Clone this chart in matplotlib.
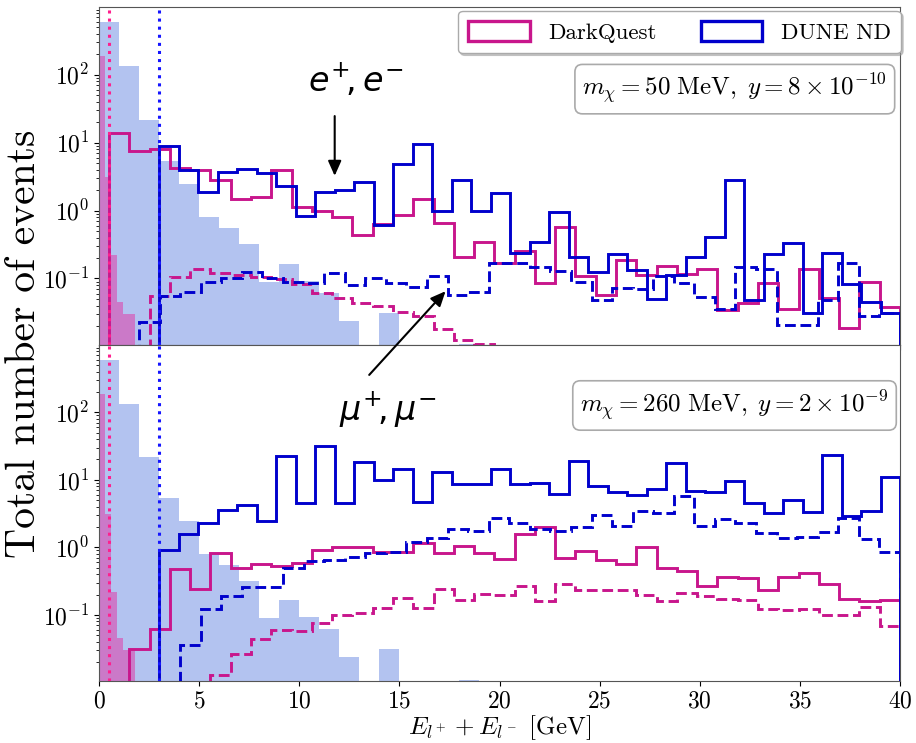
import numpy as np
import matplotlib
matplotlib.use("Agg")
import matplotlib.pyplot as plt
from matplotlib.patches import Patch

plt.rcParams["font.family"] = "serif"
plt.rcParams["font.serif"] = ["cmr10", "DejaVu Serif"]
plt.rcParams["mathtext.fontset"] = "cm"
plt.rcParams["axes.formatter.use_mathtext"] = True
plt.rcParams["axes.unicode_minus"] = False

# ---------------- data ----------------
dq_edges = np.linspace(0.5, 40, 40)        # DarkQuest bins (39)
dune_e_edges = np.linspace(3, 40, 39)      # DUNE e+e- bins (38)
dune_mu_edges = np.linspace(2, 40, 38)     # DUNE mu+mu- bins (37)
bkg_dune_edges = np.arange(0, 20)          # background (DUNE) bins
bkg_dq_edges = np.array([0.0, 0.3, 0.6, 0.9, 1.2, 1.5, 1.8])

bkg_dune = [590, 134, 21.5, 5.4, 2.45, 0.8, 0.55, 0.32, 0.09, 0.165, 0.092,
            0.062, 0.024, 0, 0.031, 0, 0, 0, 0.0107]
bkg_dq = [185, 3.1, 0.22, 0.045, 0.03, 0.03]

# top panel: m_chi = 50 MeV
dq_ee_top = [13.8, 7.4, 8.0, 4.25, 4.0, 2.8, 1.48, 1.6, 3.9, 1.11, 0.97, 0.81,
             0.44, 0.63, 0.87, 1.48, 0.65, 0.21, 0.35, 0.167, 0.25, 0.085, 0.58,
             0.11, 0.058, 0.186, 0.112, 0.152, 0.117, 0.136, 0.034, 0.044,
             0.085, 0.035, 0.139, 0.052, 0.0186, 0.089, 0.038]
dq_mm_top = [0, 0, 0.056, 0.106, 0.138, 0.12, 0.114, 0.106, 0.097, 0.083,
             0.062, 0.051, 0.044, 0.04, 0.032, 0.028, 0.018, 0.0125, 0.011,
             0, 0, 0, 0, 0, 0, 0, 0, 0, 0, 0, 0, 0, 0, 0, 0, 0, 0, 0, 0]
dune_ee_top = [8.9, 3.9, 1.85, 3.75, 4.1, 3.6, 2.3, 0.83, 1.9, 2.0, 2.66, 0.62,
               4.8, 9.4, 0.97, 2.86, 0.97, 1.8, 0.234, 0.35, 0.95, 0.21, 0.126,
               0.232, 0.132, 0.05, 0.113, 0.205, 0.41, 2.8, 0.049, 0.23, 0.335,
               0.031, 0.234, 0.082, 0.045, 0.031]
dune_mm_top = [0.023, 0.056, 0.063, 0.088, 0.1, 0.126, 0.1, 0.09, 0.085, 0.12,
               0.081, 0.1, 0.085, 0.075, 0.108, 0.058, 0.064, 0.17, 0.17, 0.15,
               0.128, 0.09, 0.048, 0.072, 0.071, 0.108, 0.085, 0.054, 0.036,
               0.146, 0.14, 0.021, 0.021, 0.048, 0.17, 0.028, 0.031]

# bottom panel: m_chi = 260 MeV
dq_ee_bot = [0, 0.031, 0.062, 0.48, 0.245, 0.82, 0.5, 0.57, 0.53, 0.59, 0.91,
             1.0, 1.0, 0.84, 0.84, 1.14, 0.82, 1.05, 0.82, 0.67, 1.6, 2.0, 0.69,
             0.88, 0.65, 0.56, 1.0, 0.5, 0.45, 0.265, 0.365, 0.355, 0.232,
             0.37, 0.41, 0.29, 0.17, 0.16, 0.165]
dq_mm_bot = [0, 0, 0, 0, 0, 0.013, 0.026, 0.044, 0.06, 0.058, 0.075, 0.1,
             0.107, 0.128, 0.176, 0.128, 0.24, 0.165, 0.206, 0.2, 0.27, 0.16,
             0.29, 0.23, 0.23, 0.23, 0.2, 0.16, 0.21, 0.19, 0.17, 0.166, 0.124,
             0.12, 0.122, 0.099, 0.1, 0.13, 0.069]
dune_ee_bot = [0.91, 1.57, 2.27, 3.6, 4.3, 2.45, 22.5, 4.6, 32, 4.6, 18.3, 9.8,
               14.3, 4.7, 13, 8.6, 8.6, 14.6, 8.6, 8.9, 6.1, 18.8, 8.0, 6.6,
               6.0, 7.4, 17.9, 6.8, 6.6, 9.6, 4.5, 3.2, 5.1, 3.3, 23, 2.9, 3.4,
               11]
dune_mm_bot = [0, 0, 0.036, 0.122, 0.19, 0.26, 0.26, 0.5, 0.63, 0.65, 0.72,
               0.83, 0.85, 1.19, 1.39, 1.9, 1.72, 2.68, 2.3, 1.9, 1.74, 2.0,
               3.05, 2.05, 3.45, 3.2, 5.8, 2.05, 2.6, 2.3, 1.63, 1.39, 1.4,
               1.67, 2.75, 1.33, 0.86]

thr_dq = 0.5
thr_dune = 3.0
labels = ["DarkQuest", "DUNE ND"]
box_text = [r"$m_\chi = 50\ \mathrm{MeV},\; y = 8\times 10^{-10}$",
            r"$m_\chi = 260\ \mathrm{MeV},\; y = 2\times 10^{-9}$"]

# ---------------- style ----------------
c_dq = "#C8168C"
c_dune = "#0000CC"
c_dq_thr = "#FF1F8E"
c_dune_thr = "#1515FF"
c_bkg_dune = "#B3C3F0"
c_bkg_dq = "#DC48AE"
FLOOR = 1e-6
lw = 2.1


def clip(v):
    v = np.asarray(v, dtype=float)
    return np.where(v > 0, v, FLOOR)


fig = plt.figure(figsize=(9.16, 7.43), dpi=100)
left, right = 99 / 916, 900 / 916
top, mid, bot = 1 - 7 / 743, 1 - 345 / 743, 1 - 681 / 743
ax1 = fig.add_axes([left, mid, right - left, top - mid])
ax2 = fig.add_axes([left, bot, right - left, mid - bot], sharex=ax1)

panels = [
    (ax1, dq_ee_top, dq_mm_top, dune_ee_top, dune_mm_top),
    (ax2, dq_ee_bot, dq_mm_bot, dune_ee_bot, dune_mm_bot),
]

for ax, dqe, dqm, due, dum in panels:
    ax.set_yscale("log")
    ax.stairs(clip(bkg_dune), bkg_dune_edges, fill=True, color=c_bkg_dune,
              baseline=FLOOR, zorder=1, lw=0)
    ax.stairs(clip(bkg_dq), bkg_dq_edges, fill=True, color=c_bkg_dq, alpha=0.6,
              baseline=FLOOR, zorder=1.1, lw=0)
    ax.stairs(clip(dqe), dq_edges, color=c_dq, lw=lw, baseline=FLOOR, zorder=3)
    ax.stairs(clip(dqm), dq_edges, color=c_dq, lw=lw, ls="--", baseline=FLOOR,
              zorder=3)
    ax.stairs(clip(due), dune_e_edges, color=c_dune, lw=lw, baseline=FLOOR,
              zorder=3.2)
    ax.stairs(clip(dum), dune_mu_edges, color=c_dune, lw=lw, ls="--",
              baseline=FLOOR, zorder=3.2)
    ax.axvline(thr_dq, color=c_dq_thr, ls=":", lw=2.2, zorder=4)
    ax.axvline(thr_dune, color=c_dune_thr, ls=":", lw=2.2, zorder=4)
    ax.set_xlim(0, 40)
    ax.set_ylim(0.0105, 990)
    ax.tick_params(axis="both", labelsize=17)
    for s in ax.spines.values():
        s.set_color("#555555")

ax1.tick_params(axis="x", labelbottom=False)
ax2.set_xticks([0, 5, 10, 15, 20, 25, 30, 35, 40])
ax2.set_xlabel(r"$E_{l^+} + E_{l^-}$ [GeV]", fontsize=18, labelpad=0)
fig.text(0.026, (top + bot) / 2, "Total number of events",
         rotation=90, ha="center", va="center", fontsize=30)

boxprops = dict(boxstyle="round,pad=0.3", fc="white", ec="#AAAAAA", lw=1.2)
ax1.text(0.984, 0.757, box_text[0], transform=ax1.transAxes, ha="right",
         va="center", fontsize=18, bbox=boxprops, zorder=6)
ax2.text(0.986, 0.82, box_text[1], transform=ax2.transAxes, ha="right",
         va="center", fontsize=18, bbox=boxprops, zorder=6)

handles = [Patch(facecolor="none", edgecolor=c_dq, lw=2.4),
           Patch(facecolor="none", edgecolor=c_dune, lw=2.4)]
leg = ax1.legend(handles, labels, loc="upper right", ncol=2, fontsize=16.5,
                 bbox_to_anchor=(1.007, 1.002), fancybox=True, framealpha=1,
                 edgecolor="#AAAAAA", handlelength=2.7, handleheight=0.95,
                 columnspacing=1.9, borderaxespad=0.2, borderpad=0.45,
                 handletextpad=0.8,
                 shadow={"color": "0.6", "alpha": 0.5, "ox": 1.5, "oy": -1.5})
leg.set_zorder(7)

# annotations
sans = dict(math_fontfamily="dejavusans")
ax1.text(12.8, 83, r"$e^{+}\!,e^{-}$", fontsize=24, ha="center", va="center",
         **sans)
ax1.annotate("", xy=(11.77, 2.95), xytext=(11.77, 27),
             arrowprops=dict(arrowstyle="-|>,head_width=0.4,head_length=0.9",
                             color="black", lw=1.5), zorder=8)
ax2.text(14.4, 107, r"$\mu^{+}\!,\mu^{-}$", fontsize=24, ha="center",
         va="center", **sans)
ax2.annotate("", xy=(17.4, 0.0697), xycoords=ax1.transData,
             xytext=(13.4, 333), textcoords="data",
             arrowprops=dict(arrowstyle="-|>,head_width=0.4,head_length=0.9",
                             color="black", lw=1.5),
             annotation_clip=False, zorder=8)

fig.savefig("out.png", dpi=100)
